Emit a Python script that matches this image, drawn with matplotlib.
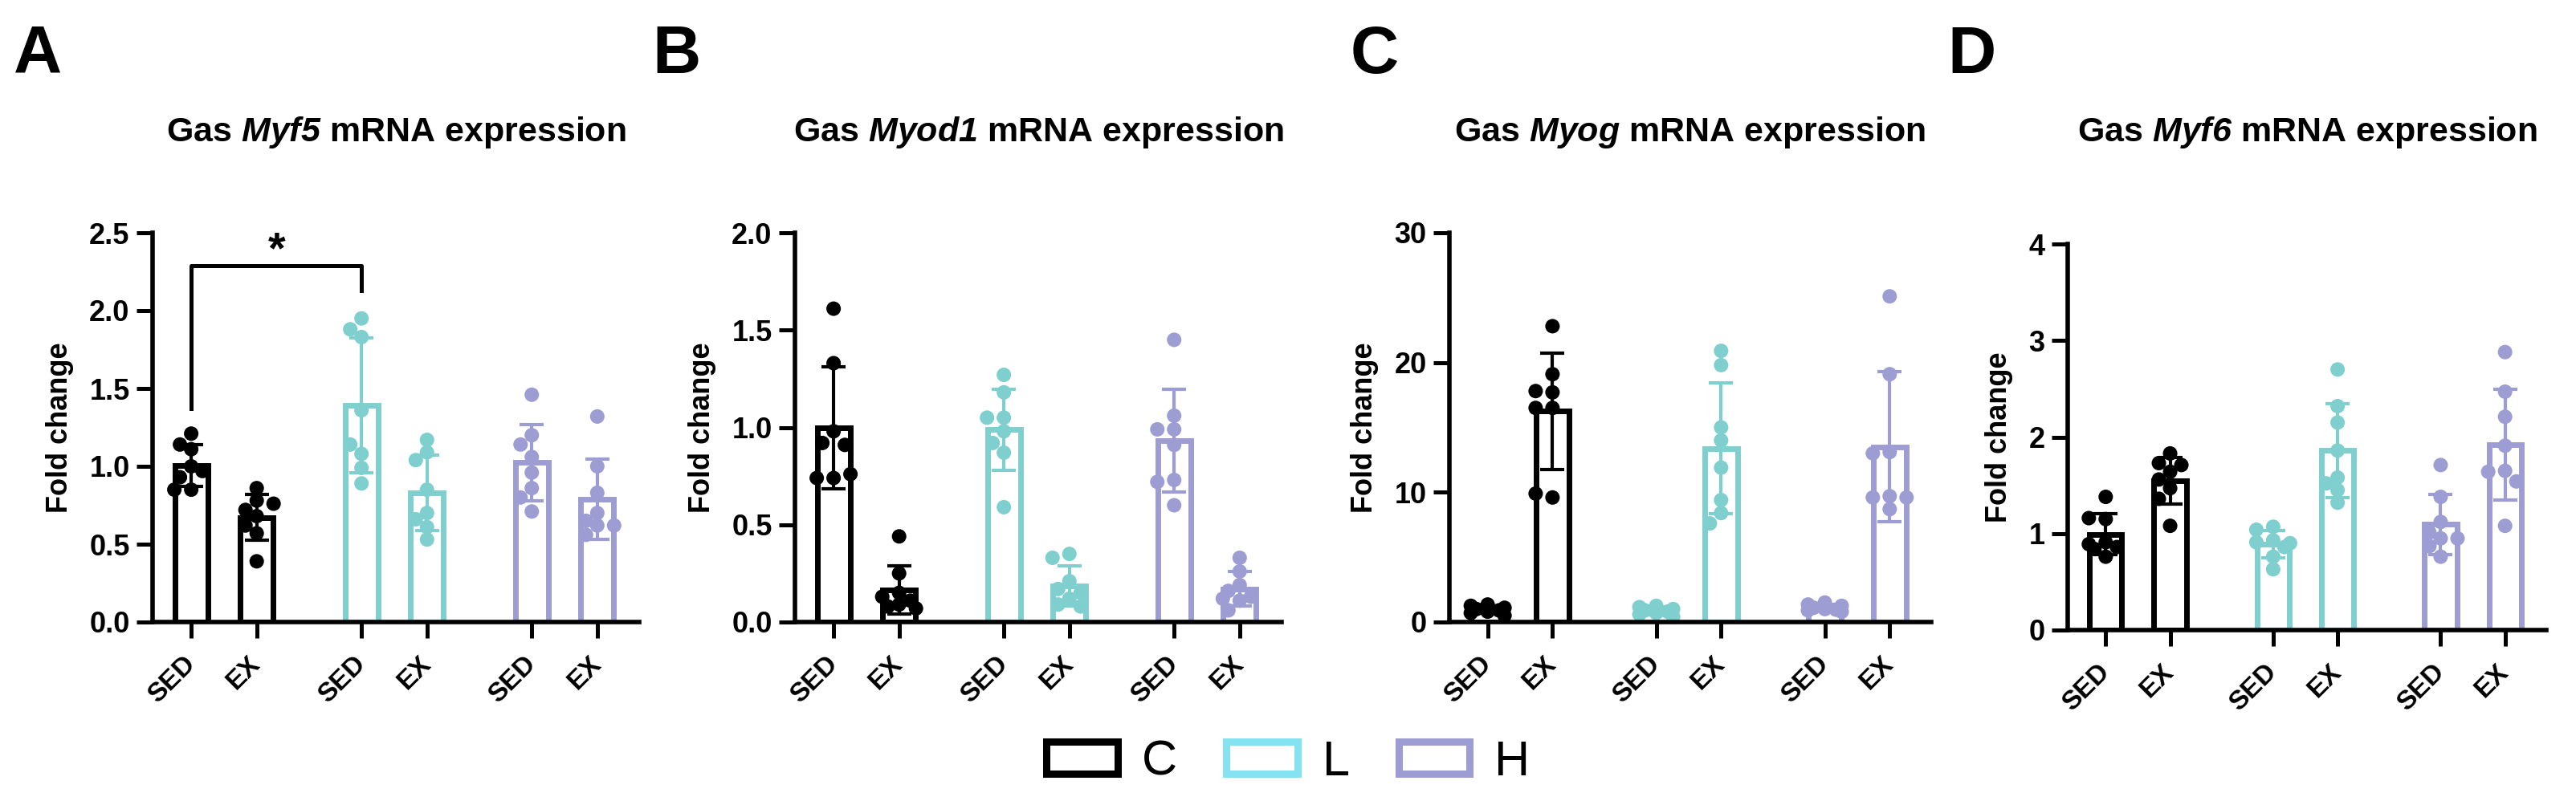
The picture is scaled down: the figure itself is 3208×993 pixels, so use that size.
import numpy as np
import matplotlib.pyplot as plt
from matplotlib.patches import Patch

plt.rcParams['font.family'] = ['Liberation Sans', 'DejaVu Sans']
plt.rcParams['mathtext.fontset'] = 'custom'
plt.rcParams['mathtext.sf'] = 'Liberation Sans:italic:bold'
plt.rcParams['mathtext.rm'] = 'Liberation Sans:bold'
narrow = ['Liberation Sans Narrow', 'Liberation Sans', 'DejaVu Sans']

# data, 8 mice per group
conditions = ['SED', 'EX', 'SED', 'EX', 'SED', 'EX']
diets = ['C', 'L', 'H']
genes = ['Myf5', 'Myod1', 'Myog', 'Myf6']
letters = ['A', 'B', 'C', 'D']

myf5 = [
    [1.21, 1.14, 1.11, 1.00, 0.93, 0.85, 0.85, 0.97],
    [0.86, 0.78, 0.72, 0.76, 0.68, 0.62, 0.57, 0.39],
    [1.95, 1.88, 1.83, 1.36, 1.08, 1.14, 0.99, 0.89],
    [1.17, 1.09, 1.04, 0.85, 0.70, 0.66, 0.61, 0.53],
    [1.46, 1.20, 1.14, 1.06, 0.96, 0.86, 0.80, 0.71],
    [1.32, 1.00, 0.83, 0.70, 0.65, 0.62, 0.56, 0.62],
]
myod1 = [
    [1.61, 1.33, 0.98, 0.92, 0.91, 0.74, 0.74, 0.76],
    [0.44, 0.25, 0.15, 0.13, 0.11, 0.09, 0.08, 0.07],
    [1.27, 1.18, 1.05, 1.05, 0.98, 0.92, 0.87, 0.59],
    [0.35, 0.33, 0.21, 0.17, 0.15, 0.12, 0.09, 0.08],
    [1.45, 1.06, 0.99, 0.99, 0.91, 0.73, 0.72, 0.60],
    [0.33, 0.26, 0.19, 0.16, 0.13, 0.11, 0.12, 0.06],
]
myog = [
    [1.35, 1.25, 1.10, 1.00, 0.90, 0.80, 0.70, 0.50],
    [22.8, 19.1, 17.7, 17.8, 16.5, 16.5, 9.6, 9.9],
    [1.25, 1.15, 1.00, 0.90, 0.80, 0.70, 0.60, 0.40],
    [20.9, 19.8, 15.0, 14.0, 11.9, 9.4, 8.4, 7.6],
    [1.50, 1.35, 1.25, 1.10, 1.00, 0.95, 0.90, 0.80],
    [25.1, 19.1, 13.1, 13.0, 9.7, 9.6, 9.6, 8.7],
]
myf6 = [
    [1.38, 1.15, 1.16, 0.91, 0.89, 0.86, 0.84, 0.76],
    [1.83, 1.73, 1.64, 1.56, 1.47, 1.36, 1.08, 1.71],
    [1.07, 1.04, 0.93, 0.91, 0.86, 0.76, 0.63, 0.90],
    [2.70, 2.32, 2.15, 1.86, 1.58, 1.52, 1.45, 1.32],
    [1.71, 1.38, 1.12, 1.01, 0.95, 0.87, 0.76, 0.95],
    [2.88, 2.47, 2.21, 1.91, 1.65, 1.64, 1.54, 1.08],
]
all_data = [myf5, myod1, myog, myf6]

yticks = [
    [0, 0.5, 1.0, 1.5, 2.0, 2.5],
    [0, 0.5, 1.0, 1.5, 2.0],
    [0, 10, 20, 30],
    [0, 1, 2, 3, 4],
]
ytick_fmt = ['{:.1f}', '{:.1f}', '{:.0f}', '{:.0f}']

# Myf5: C SED vs L SED
sig_pair = (0, 2)
sig_y = [1.37, 2.29, 2.13]

bar_colors = ['#000000', '#80CFCF', '#9D9DD3']
legend_colors = ['#000000', '#85E2F0', '#9D9DD3']
xpos = np.array([0, 1, 2.6, 3.6, 5.2, 6.2])

# axes boxes in pixels: left, right, top, bottom
W, H = 3208, 993
boxes = [(190, 796, 290, 775), (990, 1596, 290, 775),
         (1805, 2405, 290, 775), (2575, 3171, 304, 785)]
letter_x = [17, 812, 1682, 2425]

fig = plt.figure(figsize=(W / 100, H / 100), dpi=100)


def swarm(ax, x0, vals, step=14, dmin=15):
    # small beeswarm in pixel space, kept inside the bar
    tr = ax.transData
    px0 = tr.transform((x0, 0))[0]
    pts = []
    xs = []
    for v in vals:
        py = tr.transform((x0, v))[1]
        best, best_d = px0, -1
        for k in [0, -1, 1, -1.5, 1.5]:
            px = px0 + k * step
            d = min([np.hypot(px - a, py - b) for a, b in pts] + [1e9])
            if d >= dmin:
                best = px
                break
            if d > best_d:
                best, best_d = px, d
        pts.append((best, py))
        xs.append(tr.inverted().transform((best, py))[0])
    return xs


for i, data in enumerate(all_data):
    l, r, t, b = boxes[i]
    ax = fig.add_axes([l / W, 1 - b / H, (r - l) / W, (b - t) / H])
    ax.set_xlim(-0.59, 6.84)
    ax.set_ylim(0, yticks[i][-1])
    for s in ['top', 'right']:
        ax.spines[s].set_visible(False)
    for s in ['left', 'bottom']:
        ax.spines[s].set_linewidth(4)
        ax.spines[s].set_zorder(6)

    for j, vals in enumerate(data):
        c = bar_colors[j // 2]
        v = np.array(vals)
        m = v.mean()
        sd = v.std(ddof=1)
        ax.bar(xpos[j], m, width=0.5, color='white', edgecolor=c,
               linewidth=5, zorder=2)
        ax.errorbar(xpos[j], m, yerr=sd, color=c, elinewidth=3,
                    capsize=11, capthick=3, zorder=3)
        xs = swarm(ax, xpos[j], vals)
        ax.scatter(xs, vals, s=169, color=c, edgecolor='none', zorder=4,
                   clip_on=False)

    ax.set_xticks(xpos)
    ax.set_xticklabels(conditions, rotation=45, ha='right', va='center',
                       rotation_mode='anchor', fontsize=24,
                       fontweight='bold')
    ax.tick_params(axis='x', length=14.5, width=3.6, pad=20)
    ax.set_yticks(yticks[i])
    ax.set_yticklabels([ytick_fmt[i].format(y) for y in yticks[i]],
                       family=narrow, fontweight='bold', fontsize=26)
    ax.tick_params(axis='y', length=14.5, width=3.6, pad=6)
    ax.set_ylabel('Fold change', fontsize=26, fontweight='bold', labelpad=14)

    fig.text((l + r) / 2 / W, 1 - 176 / H,
             'Gas $\\mathsf{' + genes[i] + '}$ mRNA expression',
             ha='center', va='baseline', fontsize=31, fontweight='bold')
    fig.text(letter_x[i] / W, 1 - 30 / H, letters[i], ha='left', va='top',
             fontsize=60, fontweight='bold')

    if i == 0:
        x1, x2 = xpos[sig_pair[0]], xpos[sig_pair[1]]
        ax.plot([x1, x1, x2, x2], [sig_y[0], sig_y[1], sig_y[1], sig_y[2]],
                color='black', lw=3.6, clip_on=False, zorder=5)
        ax.text((x1 + x2) / 2, sig_y[1] + 0.02, '*', ha='center',
                va='baseline', fontsize=40, fontweight='bold')

handles = [Patch(facecolor='white', edgecolor=c, linewidth=6.5) for c in legend_colors]
fig.legend(handles, diets, loc='center', bbox_to_anchor=(0.5, 1 - 950 / H),
           ncol=3, frameon=False, handlelength=1.45, handleheight=0.62,
           handletextpad=0.5, columnspacing=1.0,
           prop={'family': narrow, 'size': 44})

fig.savefig('out.png', dpi=100)
